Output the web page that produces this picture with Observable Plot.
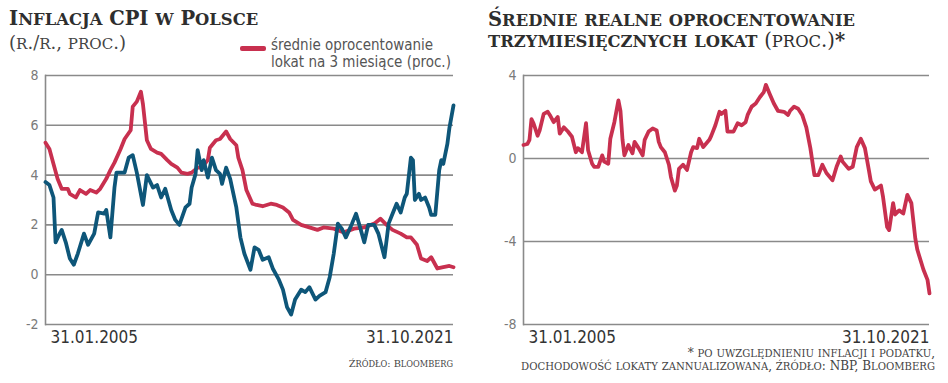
<!DOCTYPE html>
<html><head><meta charset="utf-8">
<script src="https://cdn.jsdelivr.net/npm/d3@7"></script>
<script src="https://cdn.jsdelivr.net/npm/@observablehq/plot@0.6"></script>
<style>
html,body{margin:0;padding:0;background:#fff;}
#page{position:relative;width:948px;height:383px;overflow:hidden;background:#fff;}
.t{position:absolute;white-space:nowrap;}
.title{font-family:"DejaVu Serif",serif;font-weight:bold;color:#2e2e2e;font-size:19.5px;line-height:20px;}
.sub{font-family:"DejaVu Serif",serif;color:#444;font-size:18px;line-height:18px;}
.leg{font-family:"DejaVu Sans Condensed","Liberation Sans Narrow",sans-serif;color:#555;font-size:15px;line-height:16px;}
.src{font-family:"DejaVu Serif",serif;color:#444;font-size:12px;text-align:right;line-height:13px;}
.nb{font-weight:normal;}
.plot{position:absolute;}
</style></head>
<body><div id="page">
<div class="t title sc" style="left:9px;top:9px;">Inflacja CPI w Polsce</div>
<div class="t sub sc" style="left:9px;top:34px;">(r./r., proc.)</div>
<div class="t" style="left:240px;top:46px;width:26px;height:5px;background:#c8304f;border-radius:2px;"></div>
<div class="t leg" style="left:271px;top:37px;">średnie oprocentowanie</div>
<div class="t leg" style="left:271px;top:54px;">lokat na 3 miesiące (proc.)</div>
<div class="t title sc" style="left:488px;top:10px;">Średnie realne oprocentowanie</div>
<div class="t title" style="left:488px;top:31px;"><span class="sc">trzymiesięcznych lokat </span><span class="sc nb">(proc.)</span>*</div>
<div class="t src sc" style="right:495px;top:357px;font-size:9.8px;">Źródło: Bloomberg</div>
<div class="t src sc" style="right:13px;top:347px;">* po uwzględnieniu inflacji i podatku,</div>
<div class="t src sc" style="right:13px;top:360px;">dochodowość lokaty zannualizowana, źródło: NBP, Bloomberg</div>
<div id="left" class="plot" style="left:0;top:60px;"></div>
<div id="right" class="plot" style="left:470px;top:60px;"></div>
</div>
<script>
// X-axis labels
const xLabels = ["31.01.2005", "31.10.2021"];
const yTicksLeft = [-2, 0, 2, 4, 6, 8];
const yTicksRight = [-8, -4, 0, 4];

// CPI inflation (y/y, %)
const cpiDates = ["2005-01","2005-03","2005-05","2005-06","2005-08","2005-09","2005-11","2006-01","2006-03","2006-05","2006-08","2006-10","2007-01","2007-03","2007-06","2007-07","2007-09","2007-11","2007-12","2008-04","2008-06","2008-08","2008-10","2009-01","2009-03","2009-06","2009-08","2009-10","2009-12","2010-03","2010-05","2010-07","2010-10","2010-12","2011-01","2011-03","2011-04","2011-06","2011-07","2011-09","2011-11","2012-01","2012-03","2012-04","2012-06","2012-08","2012-11","2013-01","2013-03","2013-06","2013-08","2013-10","2013-12","2014-03","2014-05","2014-08","2014-10","2014-12","2015-02","2015-04","2015-07","2015-09","2015-11","2016-02","2016-04","2016-07","2016-09","2016-11","2017-01","2017-03","2017-05","2017-08","2017-10","2017-12","2018-02","2018-04","2018-07","2018-09","2018-12","2019-02","2019-04","2019-06","2019-08","2019-10","2019-11","2020-01","2020-02","2020-03","2020-05","2020-06","2020-08","2020-10","2020-11","2021-01","2021-03","2021-04","2021-05","2021-07","2021-08","2021-10"];
const cpiValues = [3.72,3.6,3.1,1.3,1.65,1.8,1.3,0.65,0.4,0.85,1.65,1.2,1.65,2.5,2.45,2.6,1.5,3.5,4.1,4.1,4.7,4.8,4.1,2.8,4.0,3.5,3.6,3.1,3.45,2.6,2.2,2.0,2.7,2.85,3.5,4.05,5.0,4.2,4.6,3.9,4.7,4.2,4.05,3.65,4.3,3.85,2.7,1.5,0.85,0.2,1.1,1.0,0.6,0.7,0.25,-0.2,-0.6,-1.3,-1.6,-1.0,-0.6,-0.7,-0.5,-1.0,-0.85,-0.7,-0.1,0.85,2.05,1.85,1.5,2.05,2.45,1.9,1.3,2.0,2.0,1.65,0.7,2.05,2.45,2.85,2.5,3.1,3.25,4.7,4.6,3.0,3.25,3.0,3.1,2.7,2.4,2.4,4.2,4.6,4.45,5.25,5.9,6.8];

// Average 3-month deposit rate (%)
const depDates = ["2005-01","2005-03","2005-05","2005-07","2005-09","2005-12","2006-01","2006-04","2006-06","2006-09","2006-11","2007-02","2007-04","2007-07","2007-09","2007-11","2008-02","2008-04","2008-07","2008-08","2008-10","2008-12","2009-01","2009-03","2009-05","2009-08","2009-10","2010-01","2010-03","2010-06","2010-08","2010-11","2011-01","2011-04","2011-06","2011-09","2011-10","2012-01","2012-03","2012-06","2012-08","2012-11","2012-12","2013-02","2013-04","2013-07","2013-09","2013-12","2014-04","2014-07","2014-10","2015-01","2015-03","2015-07","2015-11","2016-03","2016-06","2016-11","2017-04","2017-09","2018-02","2018-07","2018-10","2019-01","2019-04","2019-08","2019-11","2020-01","2020-04","2020-06","2020-09","2020-11","2021-02","2021-05","2021-08","2021-10"];
const depValues = [5.3,5.05,4.45,3.85,3.45,3.45,3.25,3.1,3.4,3.25,3.4,3.3,3.45,3.85,4.2,4.5,5.05,5.45,5.8,6.75,6.95,7.35,6.85,5.4,5.05,4.9,4.85,4.6,4.45,4.3,4.1,4.05,4.1,4.3,4.3,4.6,5.1,5.4,5.45,5.75,5.45,5.2,4.7,4.2,3.4,2.85,2.8,2.75,2.85,2.8,2.7,2.5,2.2,2.0,1.9,1.8,1.9,1.85,1.7,1.85,1.9,2.05,2.25,2.0,1.8,1.65,1.5,1.5,1.2,0.65,0.55,0.7,0.25,0.3,0.35,0.3];

// Average real 3-month deposit rate (%)
const realDates = ["2005-01","2005-03","2005-04","2005-05","2005-06","2005-08","2005-09","2005-11","2006-01","2006-02","2006-04","2006-06","2006-07","2006-09","2006-11","2007-01","2007-03","2007-04","2007-06","2007-08","2007-09","2007-11","2007-12","2008-02","2008-04","2008-05","2008-07","2008-08","2008-10","2008-12","2009-01","2009-02","2009-03","2009-05","2009-07","2009-08","2009-10","2009-12","2010-01","2010-03","2010-05","2010-07","2010-08","2010-09","2010-11","2011-01","2011-02","2011-04","2011-05","2011-06","2011-08","2011-10","2011-12","2012-01","2012-03","2012-04","2012-06","2012-09","2012-10","2012-12","2013-02","2013-03","2013-05","2013-06","2013-09","2013-11","2014-01","2014-03","2014-04","2014-06","2014-08","2014-10","2014-12","2015-01","2015-03","2015-05","2015-07","2015-10","2015-12","2016-01","2016-03","2016-05","2016-07","2016-09","2016-11","2017-01","2017-03","2017-05","2017-07","2017-10","2017-12","2018-02","2018-03","2018-06","2018-08","2018-10","2018-12","2019-02","2019-04","2019-05","2019-07","2019-10","2019-11","2020-01","2020-02","2020-04","2020-05","2020-07","2020-09","2020-11","2021-01","2021-03","2021-04","2021-07","2021-09","2021-10"];
const realValues = [0.65,0.7,0.9,1.9,1.7,1.1,1.35,2.15,2.25,2.1,1.75,2.0,1.2,1.5,1.3,1.05,0.3,0.5,0.3,1.7,0.4,-0.25,-0.4,-0.4,0.15,-0.15,-0.25,0.95,1.75,2.8,2.3,0.9,0.15,0.65,0.25,0.8,0.5,0.15,0.9,1.3,1.45,1.35,0.8,0.55,0.3,-0.3,-0.9,-1.55,-1.3,-0.5,-0.3,-0.55,0.3,0.55,0.5,0.95,0.55,0.9,1.1,1.6,2.25,2.15,2.3,1.3,1.3,1.7,1.6,1.75,2.1,2.5,2.65,2.95,3.2,3.55,3.1,2.65,2.3,2.25,2.1,2.3,2.5,2.4,2.1,1.5,0.5,-0.8,-0.8,-0.3,-0.7,-1.05,-0.4,0.1,-0.15,-0.5,-0.4,0.55,0.95,0.5,-0.55,-1.1,-1.5,-1.3,-1.85,-3.3,-3.45,-2.15,-2.7,-2.5,-2.65,-1.75,-2.15,-3.85,-4.4,-5.35,-5.85,-6.5];

// Small caps: lowercase letters rendered as smaller capitals
document.querySelectorAll(".sc").forEach(el => {
  const walk = node => {
    if (node.nodeType === 3) {
      const frag = document.createDocumentFragment();
      node.textContent.split(/([a-ząćęłńóśźż]+)/).forEach(part => {
        if (!part) return;
        if (/^[a-ząćęłńóśźż]+$/.test(part)) {
          const s = document.createElement("span");
          s.style.fontSize = "0.84em";
          s.textContent = part.toUpperCase();
          frag.append(s);
        } else frag.append(document.createTextNode(part));
      });
      node.replaceWith(frag);
    } else [...node.childNodes].forEach(walk);
  };
  walk(el);
});

const RED = "#c8304f", BLUE = "#0e5679", GRID = "#8a8a8a";
const parse = d3.utcParse("%Y-%m");
const toRows = (dates, vals) => dates.map((d, i) => ({date: parse(d), value: vals[i]}));
const cpi = toRows(cpiDates, cpiValues);
const dep = toRows(depDates, depValues);
const real = toRows(realDates, realValues);
const x0 = parse(cpiDates[0]), x1 = parse(cpiDates[cpiDates.length - 1]);
const fmtX = d => (+d === +x0 ? xLabels[0] : xLabels[1]);
const tickFont = "DejaVu Sans Condensed, Liberation Sans Narrow, sans-serif";

function panel(rows, yDomain, yTicks, marginLeft, marginRight, width) {
  return Plot.plot({
    width, height: 300,
    marginTop: 15, marginBottom: 36, marginLeft, marginRight,
    style: {fontFamily: tickFont, background: "transparent", overflow: "visible"},
    x: {type: "utc", domain: [x0, x1]},
    y: {domain: yDomain},
    marks: [
      Plot.gridY(yTicks, {stroke: GRID, strokeOpacity: 1, strokeWidth: 1.6}),
      Plot.frame({anchor: "left", stroke: GRID, strokeWidth: 1.6}),
      Plot.axisY(yTicks, {tickSize: 0, tickPadding: 7, label: null, fill: "#7a7a7a", fontSize: 14, tickFormat: d => String(d)}),
      Plot.axisX([x0], {tickSize: 0, tickPadding: 6, label: null, textAnchor: "start", dx: 5, fill: "#333", fontSize: 17, tickFormat: fmtX}),
      Plot.axisX([x1], {tickSize: 0, tickPadding: 6, label: null, textAnchor: "end", dx: 0, fill: "#333", fontSize: 17, tickFormat: fmtX}),
      ...rows.map(r => Plot.line(r.data, {x: "date", y: "value", stroke: r.color, strokeWidth: 3.8, strokeLinejoin: "round", strokeLinecap: "round"}))
    ]
  });
}

document.getElementById("left").append(panel(
  [{data: dep, color: RED}, {data: cpi, color: BLUE}], [-2, 8], yTicksLeft, 45, 17, 470));
document.getElementById("right").append(panel(
  [{data: real, color: RED}], [-8, 4], yTicksRight, 53, 19, 478));
</script>
</body></html>
